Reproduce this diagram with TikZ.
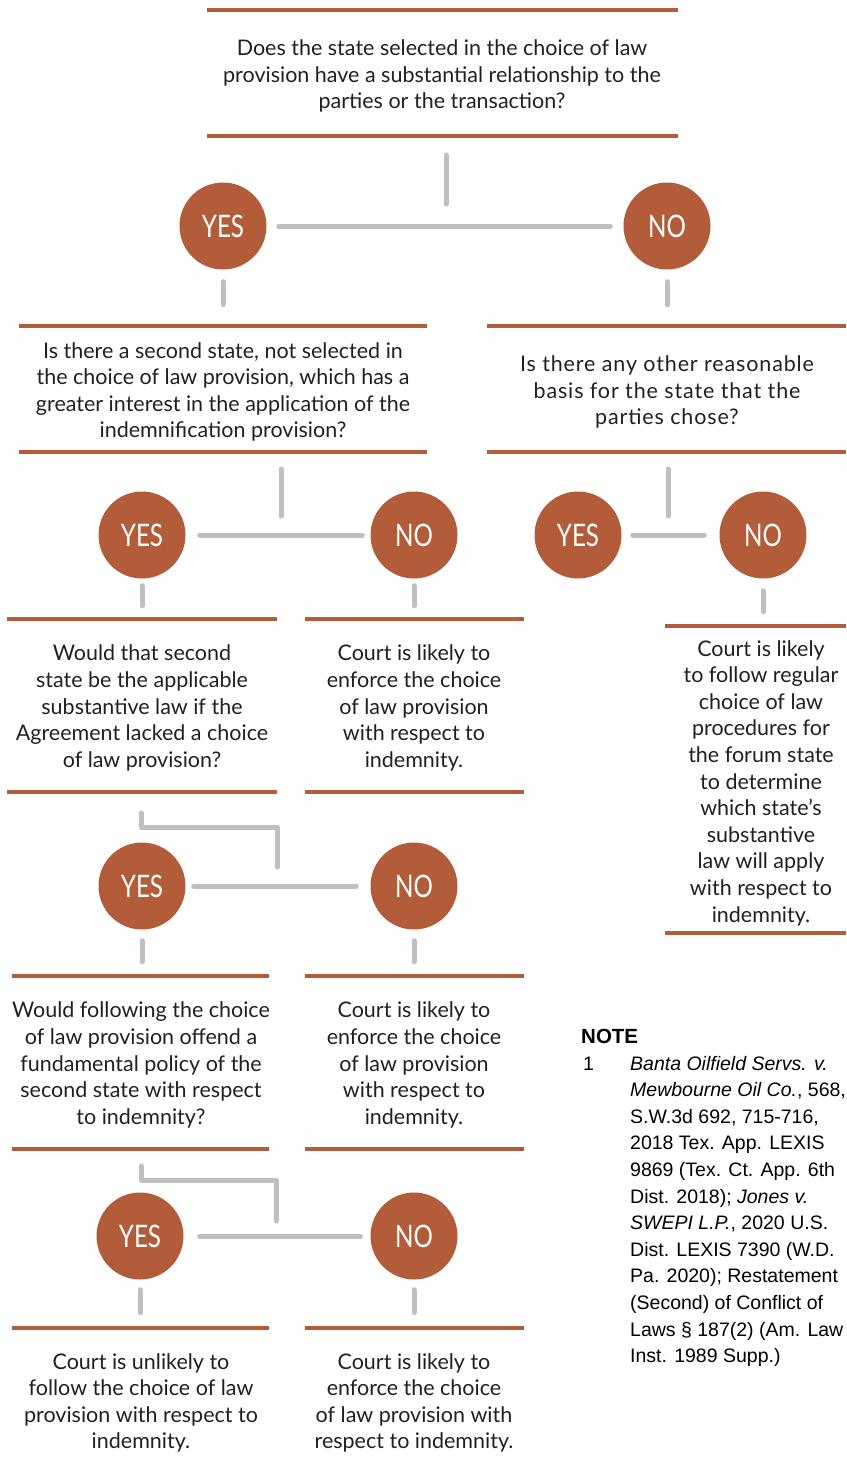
\documentclass[tikz,border=0pt]{standalone}
\usepackage{fontspec}
\setmainfont{Lato}
\newfontfamily\notefont{Liberation Sans}
\newfontfamily\widefont[LetterSpace=4]{Lato}
\definecolor{rust}{RGB}{179,92,58}
\definecolor{lgray}{RGB}{190,191,193}
\definecolor{ink}{RGB}{35,31,32}
\begin{document}
\begin{tikzpicture}[x=1pt,y=-1pt,
 bar/.style={draw=rust,line width=4.5pt},
 conn/.style={draw=lgray,line width=5pt,line cap=round,line join=round},
 ans/.style={circle,fill=rust,minimum size=87pt,inner sep=0pt,text=white,font=\fontsize{31}{31}\selectfont},
 txt/.style={align=center,font=\fontsize{21.5}{26.6}\selectfont,text=ink,inner sep=0pt},
 notetxt/.style={align=left,font=\notefont\fontsize{19.5}{26.6}\selectfont,text=black,inner sep=0pt}]
\useasboundingbox (0,0) rectangle (846,1469);

% ---------- bars ----------
\draw[bar] (207,10) -- (678,10);
\draw[bar] (207,136) -- (678,136);
\draw[bar] (19,326) -- (427,326);
\draw[bar] (19,452) -- (427,452);
\draw[bar] (487,326) -- (846,326);
\draw[bar] (487,452) -- (846,452);
\draw[bar] (7,619) -- (277,619);
\draw[bar] (7,792) -- (277,792);
\draw[bar] (305,619) -- (524,619);
\draw[bar] (305,792) -- (524,792);
\draw[bar] (665,626) -- (846,626);
\draw[bar] (665,933) -- (846,933);
\draw[bar] (12,976) -- (269,976);
\draw[bar] (12,1149) -- (269,1149);
\draw[bar] (305,976) -- (524,976);
\draw[bar] (305,1149) -- (524,1149);
\draw[bar] (12,1328) -- (269,1328);
\draw[bar] (305,1328) -- (524,1328);

% ---------- texts ----------
\node[txt] (q1) at (442,76) {Does the state selected in the choice of law\\provision have a substantial relationship to the\\parties or the transaction?};
\node[txt] (q2) at (223,392) {Is there a second state, not selected in\\the choice of law provision, which has a\\greater interest in the application of the\\indemnification provision?};
\node[txt,font=\widefont\fontsize{21.5}{26.6}\selectfont] (q3) at (667,392) {Is there any other reasonable\\basis for the state that the\\parties chose?};
\node[txt] (q4) at (142,708) {Would that second\\state be the applicable\\substantive law if the\\Agreement lacked a choice\\of law provision?};
\node[txt] (r1) at (414,708) {Court is likely to\\enforce the choice\\of law provision\\with respect to\\indemnity.};
\node[txt] (r2) at (761,783) {Court is likely\\to follow regular\\choice of law\\procedures for\\the forum state\\to determine\\which state's\\substantive\\law will apply\\with respect to\\indemnity.};
\node[txt] (q5) at (141,1065) {Would following the choice\\of law provision offend a\\fundamental policy of the\\second state with respect\\to indemnity?};
\node[txt] (r3) at (414,1065) {Court is likely to\\enforce the choice\\of law provision\\with respect to\\indemnity.};
\node[txt] (r4) at (141,1403) {Court is unlikely to\\follow the choice of law\\provision with respect to\\indemnity.};
\node[txt] (r5) at (414,1403) {Court is likely to\\enforce the choice\\of law provision with\\respect to indemnity.};

% ---------- answer circles ----------
\node[ans] (y1) at (223,226) {\scalebox{0.78}[1]{YES}};
\node[ans] (n1) at (667,226) {\scalebox{0.78}[1]{NO}};
\node[ans] (y2) at (142,535) {\scalebox{0.78}[1]{YES}};
\node[ans] (n2) at (414,535) {\scalebox{0.78}[1]{NO}};
\node[ans] (y3) at (578,535) {\scalebox{0.78}[1]{YES}};
\node[ans] (n3) at (763,535) {\scalebox{0.78}[1]{NO}};
\node[ans] (y4) at (142,886) {\scalebox{0.78}[1]{YES}};
\node[ans] (n4) at (414,886) {\scalebox{0.78}[1]{NO}};
\node[ans] (y5) at (140,1236) {\scalebox{0.78}[1]{YES}};
\node[ans] (n5) at (414,1236) {\scalebox{0.78}[1]{NO}};

% ---------- connectors ----------
\coordinate (j1a) at (446,155); \coordinate (j1b) at (446,204);
\draw[conn] (j1a) -- (j1b);
\draw[conn] ([xshift=12pt]y1.east) -- ([xshift=-13pt]n1.west);
\draw[conn] ([yshift=-12pt]y1.south) -- ++(0,23);
\draw[conn] ([yshift=-12pt]n1.south) -- ++(0,23);

\coordinate (j2a) at (281,469); \coordinate (j2b) at (281,516);
\draw[conn] (j2a) -- (j2b);
\draw[conn] ([xshift=14pt]y2.east) -- ([xshift=-8pt]n2.west);
\draw[conn] ([yshift=-7pt]y2.south) -- ++(0,20);
\draw[conn] ([yshift=-7pt]n2.south) -- ++(0,20);

\coordinate (j3a) at (668,469); \coordinate (j3b) at (668,516);
\draw[conn] (j3a) -- (j3b);
\draw[conn] ([xshift=11pt]y3.east) -- ([xshift=-15pt]n3.west);
\draw[conn] ([yshift=-12pt]n3.south) -- ++(0,21);

\coordinate (j4a) at (141,813); \coordinate (j4b) at (277,867);
\draw[conn] (j4a) -- (141,827) -| (j4b);
\draw[conn] ([xshift=8pt]y4.east) -- ([xshift=-14pt]n4.west);
\draw[conn] ([yshift=-11pt]y4.south) -- ++(0,21);
\draw[conn] ([yshift=-11pt]n4.south) -- ++(0,21);

\coordinate (j5a) at (141,1166); \coordinate (j5b) at (276,1221);
\draw[conn] (j5a) -- (141,1180) -| (j5b);
\draw[conn] ([xshift=16pt]y5.east) -- ([xshift=-10pt]n5.west);
\draw[conn] ([yshift=-10pt]y5.south) -- ++(0,23);
\draw[conn] ([yshift=-10pt]n5.south) -- ++(0,23);

% ---------- note ----------
\node[anchor=base west,font=\notefont\bfseries\fontsize{20.5}{20.5}\selectfont,text=black,inner sep=0pt] (nt) at (581,1043) {NOTE};
\node[anchor=base west,notetxt] (nn) at (583,1070) {1};
\node[anchor=base west,notetxt] (nb) at (630,1362.6) {\textit{Banta Oilfield Servs. v.}\\\textit{Mewbourne Oil Co.}, 568,\\S.W.3d 692, 715-716,\\2018 Tex. App. LEXIS\\9869 (Tex. Ct. App. 6th\\Dist. 2018); \textit{Jones v.}\\\textit{SWEPI L.P.}, 2020 U.S.\\Dist. LEXIS 7390 (W.D.\\Pa. 2020); Restatement\\(Second) of Conflict of\\Laws § 187(2) (Am. Law\\Inst. 1989 Supp.)};
\end{tikzpicture}
\end{document}
